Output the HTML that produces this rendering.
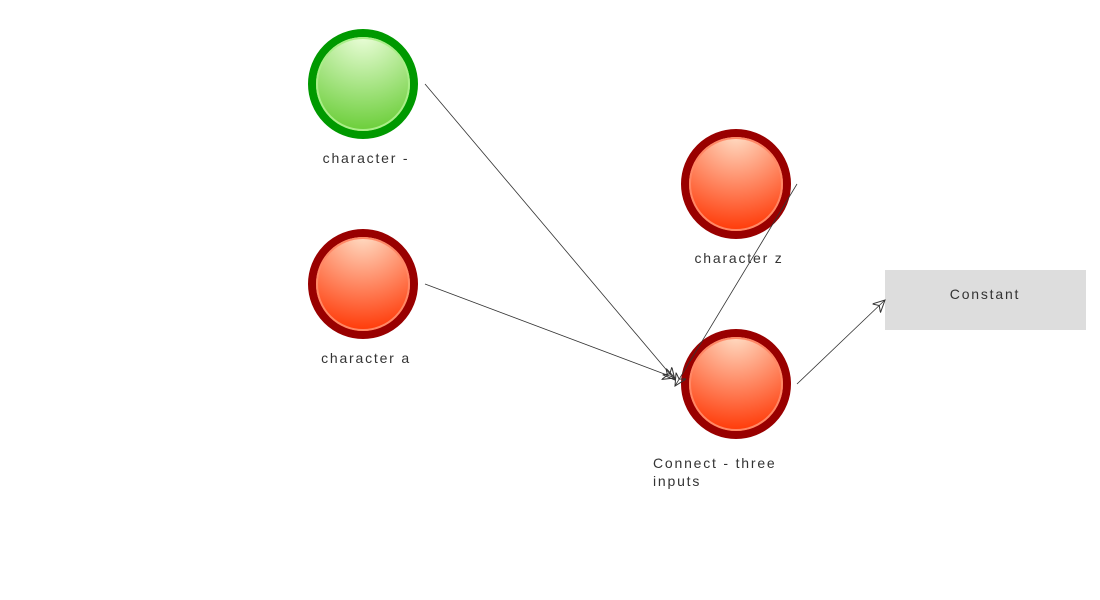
<!DOCTYPE html>
<html><head><style>body{margin:0;background:#fff}svg{display:block}text{font-family:"Liberation Sans",sans-serif;font-size:14px;fill:#333;letter-spacing:1.8px}</style></head><body>
<svg width="1100" height="600" xmlns="http://www.w3.org/2000/svg">
<defs>
<radialGradient id="g" cx="50%" cy="0%" r="100%"><stop offset="0" stop-color="#eeffdd"/><stop offset="1" stop-color="#66cc33"/></radialGradient>
<radialGradient id="r" cx="50%" cy="0%" r="100%"><stop offset="0" stop-color="#ffe0c8"/><stop offset="1" stop-color="#ff3300"/></radialGradient>
<marker id="a" markerWidth="14" markerHeight="14" refX="12" refY="6" orient="auto" markerUnits="userSpaceOnUse"><path d="M0,0 L12,6 L0,12 L4,6 Z" fill="none" stroke="#333" stroke-width="1"/></marker>
</defs>
<circle cx="363" cy="84" r="51" fill="url(#g)" stroke="#009900" stroke-width="8"/>
<circle cx="363" cy="84" r="46" fill="none" stroke="#aaee88" stroke-width="2"/>
<circle cx="363" cy="284" r="51" fill="url(#r)" stroke="#990000" stroke-width="8"/>
<circle cx="363" cy="284" r="46" fill="none" stroke="#ff8866" stroke-width="2"/>
<circle cx="736" cy="184" r="51" fill="url(#r)" stroke="#990000" stroke-width="8"/>
<circle cx="736" cy="184" r="46" fill="none" stroke="#ff8866" stroke-width="2"/>
<circle cx="736" cy="384" r="51" fill="url(#r)" stroke="#990000" stroke-width="8"/>
<circle cx="736" cy="384" r="46" fill="none" stroke="#ff8866" stroke-width="2"/>
<rect x="885" y="270" width="201" height="60" fill="#dddddd"/>
<g stroke="#333" stroke-width="0.8" fill="none">
<line x1="425" y1="84" x2="675" y2="380" marker-end="url(#a)"/>
<line x1="425" y1="284" x2="675" y2="378" marker-end="url(#a)"/>
<line x1="797" y1="184" x2="675" y2="386" marker-end="url(#a)"/>
<line x1="797" y1="384" x2="885" y2="300" marker-end="url(#a)"/>
</g>
<text x="985" y="299" text-anchor="middle">Constant</text>
<text x="366" y="163" text-anchor="middle">character -</text>
<text x="366" y="363" text-anchor="middle">character a</text>
<text x="739" y="263" text-anchor="middle">character z</text>
<text x="653" y="468">Connect - three</text>
<text x="653" y="486">inputs</text>
</svg>
</body></html>
